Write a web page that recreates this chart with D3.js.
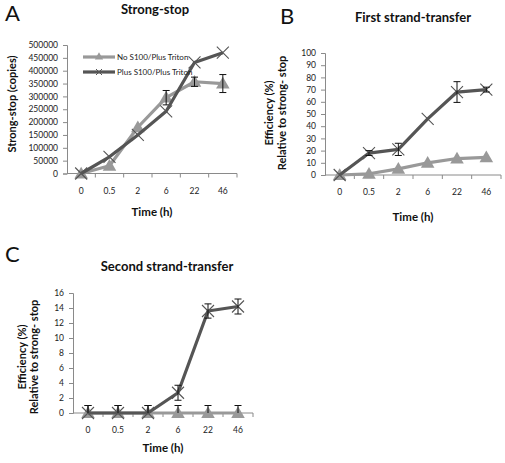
<!DOCTYPE html>
<html><head><meta charset="utf-8">
<script src="https://cdn.jsdelivr.net/npm/d3@7"></script>
<style>body{margin:0;background:#fff}svg{display:block}text{font-family:Lato,"Open Sans",sans-serif}</style>
</head><body>
<svg id="c" width="505" height="463"></svg>
<script>
const times = ["0","0.5","2","6","22","46"];
const legendNames = ["No S100/Plus Triton","Plus S100/Plus Triton"];
// Panel A: strong-stop copies
const aNoS100 = [0, 30000, 180000, 295000, 357000, 350000];
const aNoS100Err = [0, 0, 0, 28000, 18000, 35000];
const aPlusS100 = [0, 65000, 150000, 242000, 432000, 470000];
const aPlusS100Err = [0, 0, 0, 0, 0, 0];
const aTicks = [0,50000,100000,150000,200000,250000,300000,350000,400000,450000,500000];
// Panel B: first strand-transfer efficiency (%)
const bNoS100 = [0, 1, 5, 10, 13.5, 14.5];
const bNoS100Err = [0, 0, 0, 0, 0, 0];
const bPlusS100 = [0, 18, 21, 46, 68, 70];
const bPlusS100Err = [0, 2, 5, 0, 8.5, 2];
const bTicks = [0,10,20,30,40,50,60,70,80,90,100];
// Panel C: second strand-transfer efficiency (%)
const cNoS100 = [0, 0, 0, 0, 0, 0];
const cNoS100Err = [1, 1, 1, 1, 1, 1];
const cPlusS100 = [0, 0, 0, 2.7, 13.6, 14.2];
const cPlusS100Err = [1, 1, 1, 1, 0.95, 1];
const cTicks = [0,2,4,6,8,10,12,14,16];

const LIGHT = "#999999", DARK = "#555555", AXIS = "#8a8a8a";
const svg = d3.select("#c");

function panel(o){
  const g = svg.append("g");
  const x = d3.scaleBand().domain(times).range([o.x0, o.x1]).paddingInner(0).paddingOuter(0);
  const y = d3.scaleLinear().domain([0, o.ymax]).range([o.y0, o.y1]);
  const ya = g.append("g").attr("transform",`translate(${o.x0},0)`)
    .call(d3.axisLeft(y).tickValues(o.ticks).tickSize(4).tickPadding(5).tickFormat(d3.format("d")));
  ya.select(".domain").attr("stroke",AXIS);
  ya.selectAll(".tick line").attr("stroke",AXIS);
  ya.selectAll(".tick text").attr("font-size",8.5).attr("fill","#222");
  const xa = g.append("g").attr("transform",`translate(0,${o.y0})`)
    .call(d3.axisBottom(x).tickSize(0).tickPadding(14));
  xa.select(".domain").attr("stroke",AXIS).attr("d",`M${o.x0},0H${o.x1}`);
  xa.selectAll(".tick text").attr("font-size",8.5).attr("fill","#222");
  g.selectAll(".bt").data(times).enter().append("line")
    .attr("x1",d=>x(d)+x.bandwidth()).attr("x2",d=>x(d)+x.bandwidth())
    .attr("y1",o.y0).attr("y2",o.y0+4).attr("stroke",AXIS);
  const cx = d => x(d)+x.bandwidth()/2;
  g.append("text").attr("x",o.letterX).attr("y",o.letterY).attr("font-size",22).attr("fill","#111").text(o.letter);
  g.append("text").attr("x",o.titleX).attr("y",o.titleY).attr("text-anchor","middle").attr("font-size",13).attr("font-weight","bold").attr("fill","#111").text(o.title);
  g.append("text").attr("x",(o.x0+o.x1)/2).attr("y",o.timeY).attr("text-anchor","middle").attr("font-size",11.5).attr("font-weight","bold").attr("fill","#111").text("Time (h)");
  o.ylabel.forEach((t,i)=>{
    g.append("text").attr("transform",`translate(${o.ylabX[i]},${o.ylabY}) rotate(-90)`)
      .attr("text-anchor","middle").attr("font-size",11).attr("font-weight","bold").attr("fill","#111").text(t);
  });
  const line = d3.line().x((d,i)=>cx(times[i])).y(d=>y(d));
  function series(vals, errs, color, marker){
    const sg = g.append("g");
    sg.append("path").datum(vals).attr("d",line).attr("fill","none").attr("stroke",color).attr("stroke-width",3.2).attr("stroke-linejoin","round");
    vals.forEach((v,i)=>{
      const px = cx(times[i]), py = y(v);
      if(marker==="tri"){
        sg.append("path").attr("d",d3.symbol(d3.symbolTriangle,80)()).attr("transform",`translate(${px},${py+1})`).attr("fill",color);
      } else {
        sg.append("path").attr("d",`M${px-6},${py-6}L${px+6},${py+6}M${px-6},${py+6}L${px+6},${py-6}`).attr("stroke",color).attr("stroke-width",1.1);
      }
      const e = errs[i];
      if(e>0){
        const lo = o.clipZero ? Math.max(0, v-e) : v-e;
        const t = y(v+e), b = y(lo);
        let d = `M${px},${t}V${b}M${px-3.5},${t}H${px+3.5}`;
        if(lo > 0 || !o.clipZero) d += `M${px-3.5},${b}H${px+3.5}`;
        sg.append("path").attr("d",d).attr("stroke","#111").attr("stroke-width",1).attr("fill","none");
      }
    });
  }
  series(o.light, o.lightErr, LIGHT, "tri");
  series(o.dark, o.darkErr, DARK, "x");
  return {x,y,g,cx};
}

const A = panel({x0:67,x1:237,y0:173.5,y1:45,ymax:500000,ticks:aTicks,
  light:aNoS100,lightErr:aNoS100Err,dark:aPlusS100,darkErr:aPlusS100Err,
  letter:"A",letterX:5,letterY:21,title:"Strong-stop",titleX:155,titleY:14,timeY:216,
  ylabel:["Strong-stop (copies)"],ylabX:[16],ylabY:104});
[[LIGHT,"tri"],[DARK,"x"]].forEach((s,i)=>{
  const ly = 57 + i*15, lx1 = 83, lx2 = 115, mx = 99;
  A.g.append("line").attr("x1",lx1).attr("x2",lx2).attr("y1",ly).attr("y2",ly).attr("stroke",s[0]).attr("stroke-width",3.2);
  if(s[1]==="tri") A.g.append("path").attr("d",d3.symbol(d3.symbolTriangle,30)()).attr("transform",`translate(${mx},${ly})`).attr("fill",s[0]);
  else A.g.append("path").attr("d",`M${mx-3},${ly-3}L${mx+3},${ly+3}M${mx-3},${ly+3}L${mx+3},${ly-3}`).attr("stroke",s[0]).attr("stroke-width",1);
  A.g.append("text").attr("x",117).attr("y",ly+3).attr("font-size",8).attr("fill","#222").text(legendNames[i]);
});

panel({x0:325,x1:501,y0:175,y1:53,ymax:100,ticks:bTicks,
  light:bNoS100,lightErr:bNoS100Err,dark:bPlusS100,darkErr:bPlusS100Err,
  letter:"B",letterX:280,letterY:24,title:"First strand-transfer",titleX:413,titleY:22,timeY:221,
  ylabel:["Efficiency (%)","Relative to strong- stop"],ylabX:[273,286],ylabY:113});

panel({x0:73,x1:253,y0:413,y1:293,ymax:16,ticks:cTicks,clipZero:true,
  light:cNoS100,lightErr:cNoS100Err,dark:cPlusS100,darkErr:cPlusS100Err,
  letter:"C",letterX:5,letterY:262,title:"Second strand-transfer",titleX:167,titleY:271,timeY:452,
  ylabel:["Efficiency (%)","Relative to strong- stop"],ylabX:[26,38],ylabY:357});
</script>
</body></html>
